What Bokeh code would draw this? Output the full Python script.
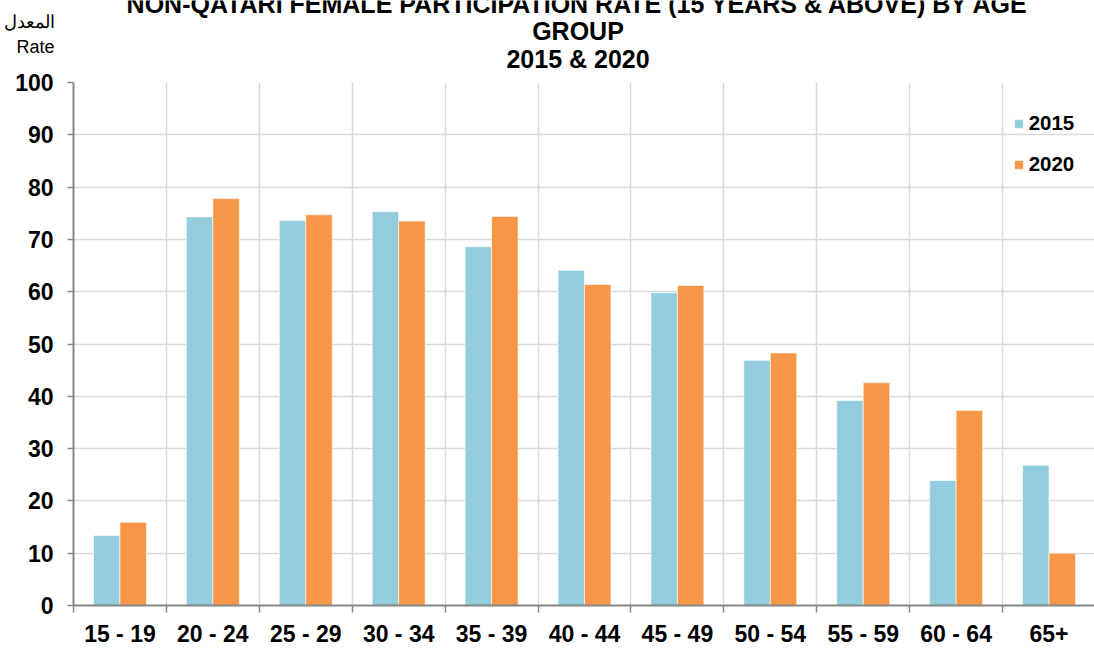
from bokeh.plotting import figure
from bokeh.layouts import column
from bokeh.models import (FactorRange, Range1d, LinearAxis, CategoricalAxis, FixedTicker,
                          Grid, Legend, LegendItem, ColumnDataSource)
from bokeh.core.properties import value
from bokeh.transform import dodge
from bokeh.embed import file_html
from bokeh.resources import INLINE

# ---------------- data ----------------
age_groups = ["15 - 19", "20 - 24", "25 - 29", "30 - 34", "35 - 39", "40 - 44",
              "45 - 49", "50 - 54", "55 - 59", "60 - 64", "65+"]
rate_2015 = [13.4, 74.3, 73.6, 75.3, 68.6, 64.1, 59.8, 46.9, 39.2, 23.9, 26.8]
rate_2020 = [15.9, 77.8, 74.7, 73.5, 74.4, 61.4, 61.2, 48.3, 42.6, 37.3, 10.0]
series_names = ["2015", "2020"]
y_ticks = list(range(0, 101, 10))
title_lines = ["NON-QATARI FEMALE PARTICIPATION RATE (15 YEARS & ABOVE) BY AGE",
               "GROUP", "2015 & 2020"]
axis_caption = ["المعدل", "Rate"]

# ---------------- styling ----------------
C2015 = "#93CDDD"
C2020 = "#F79646"
GRID = "#D9D9D9"
AXIS = "#868686"
BOLD_FONT = "Liberation Sans"

W = 1094
FL, FW, FH = 72, 1022, 523   # frame left / width / height
HEAD_H = 69                  # header strip height
TOP_GAP = 13                 # gap between header and the plot frame

# ---------------- header strip (title + axis caption) ----------------
head = figure(width=W, height=HEAD_H, x_range=Range1d(FL, W), y_range=Range1d(HEAD_H, 0),
              x_axis_location=None, y_axis_location=None,
              min_border_left=FL, min_border_right=0, min_border_top=0, min_border_bottom=0,
              output_backend="svg", toolbar_location=None)
head.outline_line_color = None
head.xgrid.visible = False
head.ygrid.visible = False
head.text(x=[577, 577, 577], y=[3.2, 30.6, 58.0], text=title_lines,
          text_align="center", text_baseline="middle",
          text_font=value(BOLD_FONT), text_font_style="bold",
          text_font_size="25px", text_color="black")
caption_y = [21, 46]
cap_axis = LinearAxis(ticker=FixedTicker(ticks=caption_y),
                      major_label_overrides={yy: t for yy, t in zip(caption_y, axis_caption)},
                      axis_line_color=None, major_tick_line_color=None,
                      minor_tick_line_color=None, major_tick_out=0, major_tick_in=0,
                      major_label_standoff=19, axis_label_standoff=0,
                      major_label_text_font="Liberation Sans",
                      major_label_text_font_size="18px", major_label_text_color="black")
head.add_layout(cap_axis, "left")

# ---------------- main chart ----------------
src = ColumnDataSource(dict(age=age_groups, r2015=rate_2015, r2020=rate_2020))
n = len(age_groups)
boundaries = list(range(n + 1))  # category boundaries in synthetic coordinates

p = figure(x_range=FactorRange(*age_groups, range_padding=0, factor_padding=0),
           y_range=Range1d(0, 100),
           frame_width=FW, frame_height=FH,
           min_border_left=FL, min_border_right=0, min_border_top=TOP_GAP, min_border_bottom=40,
           x_axis_location=None, y_axis_location=None,
           output_backend="svg", toolbar_location=None)
p.outline_line_color = None
p.background_fill_color = "white"
p.border_fill_color = "white"

# grids
p.xgrid.visible = False
p.ygrid.visible = False
p.add_layout(Grid(dimension=1, ticker=FixedTicker(ticks=y_ticks),
                  grid_line_color=GRID, grid_line_width=1.5))
p.add_layout(Grid(dimension=0, ticker=FixedTicker(ticks=boundaries),
                  grid_line_color=GRID, grid_line_width=1.5))

# bars
w = 0.285
r1 = p.vbar(x=dodge("age", -w / 2, range=p.x_range), top="r2015", width=w, source=src,
            fill_color=C2015, line_color="white", line_alpha=0.6, line_width=1)
r2 = p.vbar(x=dodge("age", w / 2, range=p.x_range), top="r2020", width=w, source=src,
            fill_color=C2020, line_color="white", line_alpha=0.6, line_width=1)

# y axis
yaxis = LinearAxis(ticker=FixedTicker(ticks=y_ticks),
                   axis_line_color=AXIS, axis_line_width=2,
                   major_tick_line_color=AXIS, major_tick_line_width=1.5,
                   major_tick_out=6, major_tick_in=0, minor_tick_line_color=None,
                   major_label_text_font=BOLD_FONT, major_label_text_font_style="bold",
                   major_label_text_font_size="23px", major_label_text_color="black",
                   major_label_standoff=14, axis_label_standoff=0)
p.add_layout(yaxis, "left")

# x axis line + boundary ticks
xline = LinearAxis(ticker=FixedTicker(ticks=boundaries),
                   axis_line_color=AXIS, axis_line_width=2,
                   major_tick_line_color=AXIS, major_tick_line_width=1.5,
                   major_tick_out=7, major_tick_in=0, minor_tick_line_color=None,
                   major_label_overrides={i: "" for i in boundaries},
                   major_label_text_font_size="1px", major_label_standoff=0)
p.add_layout(xline, "below")

# x category labels
xcat = CategoricalAxis(axis_line_color=None, major_tick_line_color=None,
                       minor_tick_line_color=None,
                       major_label_text_font=BOLD_FONT, major_label_text_font_style="bold",
                       major_label_text_font_size="23px", major_label_text_color="black",
                       major_label_standoff=2)
p.add_layout(xcat, "below")

# legend
legend = Legend(items=[LegendItem(label=series_names[0], renderers=[r1]),
                       LegendItem(label=series_names[1], renderers=[r2])],
                location=(948, 429), orientation="vertical",
                glyph_width=11, glyph_height=11, label_standoff=5,
                label_text_font=BOLD_FONT, label_text_font_style="bold",
                label_text_font_size="20.5px", label_text_color="black",
                label_height=20, spacing=17,
                padding=0, margin=0, border_line_color=None, background_fill_alpha=0)
p.add_layout(legend)

layout = column(head, p, spacing=0)
open("out.html", "w").write(file_html(layout, INLINE))
